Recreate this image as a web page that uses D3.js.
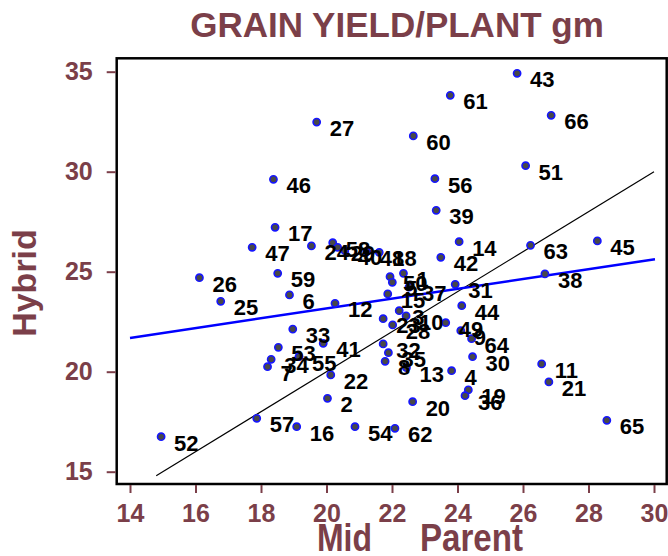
<!doctype html>
<html lang="en">
<head>
<meta charset="UTF-8">
<title>Grain yield / plant</title>
<script src="https://cdn.jsdelivr.net/npm/d3@7"></script>
<style>
  body { margin: 0; background: #fff; }
  svg { display: block; font-family: "Liberation Sans", Arial, sans-serif; }
</style>
</head>
<body>
<svg width="668" height="556"></svg>
<script>
// point labels (entry number), mid parent value (x) and hybrid value (y)
var labels = [43, 61, 66, 27, 60, 51, 46, 56, 39,
  17, 47, 24, 14, 63, 45, 42,
  58, 29, 40, 48, 18,
  26, 59, 25, 6, 12, 38,
  50, 5, 1, 15, 37, 31, 44,
  3, 10, 23, 28, 49, 9, 64, 30, 32, 35, 8, 13, 4, 19, 36, 20, 11, 21, 65, 54, 62,
  33, 53, 34, 7, 55, 41, 22, 2, 57, 16, 52];
var midParent = [25.82, 23.78, 26.86, 19.70, 22.65, 26.08, 18.38, 23.31, 23.35,
  18.43, 17.73, 19.54, 24.05, 26.23, 28.27, 23.49,
  20.19, 20.34, 20.56, 21.23, 21.61,
  16.12, 18.51, 16.77, 18.87, 20.26, 26.67,
  21.94, 22.01, 22.35, 21.87, 22.52, 23.93, 24.13,
  22.22, 22.43, 21.73, 22.02, 23.64, 24.10, 24.43, 24.46, 21.73, 21.89, 21.79, 22.44, 23.82, 24.33, 24.23, 22.63, 26.57, 26.79, 28.56, 20.87, 22.09,
  18.97, 18.53, 18.31, 18.20, 19.16, 19.90, 20.13, 20.03, 17.87, 19.09, 14.95];
var hybrid = [34.92, 33.82, 32.82, 32.48, 31.79, 30.30, 29.62, 29.65, 28.07,
  27.22, 26.22, 26.29, 26.50, 26.32, 26.54, 25.72,
  26.45, 26.22, 26.05, 26.00, 25.97,
  24.70, 24.92, 23.52, 23.84, 23.42, 24.89,
  24.75, 24.47, 24.92, 23.89, 24.23, 24.37, 23.30,
  23.05, 22.79, 22.65, 22.34, 22.45, 22.05, 21.65, 20.75, 21.39, 20.95, 20.52, 20.20, 20.05, 19.09, 18.80, 18.50, 20.39, 19.49, 17.57, 17.25, 17.17,
  22.13, 21.22, 20.62, 20.25, 20.75, 21.42, 19.84, 18.67, 17.67, 17.25, 16.75];

// fitted line (blue) and the 1:1 line (black), end points
var fitX = [14, 30.03];
var fitY = [21.69, 25.62];
var unitX = [14.8, 30];
var unitY = [14.8, 30];

var xTicks = [14, 16, 18, 20, 22, 24, 26, 28, 30];
var yTicks = [15, 20, 25, 30, 35];

var maroon = "#7b3f49";
var svg = d3.select("svg");

var x = d3.scaleLinear().domain([14, 30]).range([130, 654]);
var y = d3.scaleLinear().domain([15, 35]).range([471.7, 71.7]);

// frame
var box = { left: 116.7, right: 666.7, top: 58.3, bottom: 484 };
svg.append("rect")
  .attr("x", box.left).attr("y", box.top)
  .attr("width", box.right - box.left).attr("height", box.bottom - box.top)
  .attr("fill", "none").attr("stroke", "#000").attr("stroke-width", 2.5);

// axes
var xAxis = svg.append("g")
  .attr("transform", "translate(0," + (box.bottom + 1) + ")")
  .call(d3.axisBottom(x).tickValues(xTicks).tickSize(8).tickPadding(11));
var yAxis = svg.append("g")
  .attr("transform", "translate(" + (box.left - 1) + ",0)")
  .call(d3.axisLeft(y).tickValues(yTicks).tickSize(9).tickPadding(14));

[xAxis, yAxis].forEach(function (g) {
  g.select(".domain").remove();
  g.selectAll("line").attr("stroke", maroon).attr("stroke-width", 2);
  g.selectAll("text")
    .attr("fill", maroon)
    .style("font-size", "25px")
    .style("font-weight", "bold")
    .style("font-family", "'Liberation Sans', Arial, sans-serif");
});

// lines
var line = d3.line().x(function (d) { return x(d[0]); }).y(function (d) { return y(d[1]); });
svg.append("path")
  .attr("d", line(d3.zip(unitX, unitY)))
  .attr("fill", "none").attr("stroke", "#000").attr("stroke-width", 1.2);
svg.append("path")
  .attr("d", line(d3.zip(fitX, fitY)))
  .attr("fill", "none").attr("stroke", "#0000ff").attr("stroke-width", 2.5);

// points
var pts = d3.range(labels.length);
svg.append("g").selectAll("circle")
  .data(pts).enter().append("circle")
  .attr("cx", function (i) { return x(midParent[i]); })
  .attr("cy", function (i) { return y(hybrid[i]); })
  .attr("r", 3.6)
  .attr("fill", "#484848")
  .attr("stroke", "#1515ff")
  .attr("stroke-width", 1.6);

svg.append("g").selectAll("text")
  .data(pts).enter().append("text")
  .attr("x", function (i) { return x(midParent[i]) + 13; })
  .attr("y", function (i) { return y(hybrid[i]) + 14; })
  .text(function (i) { return labels[i]; })
  .style("font-size", "22px")
  .style("font-weight", "bold")
  .attr("fill", "#000");

// titles
svg.append("text")
  .attr("x", 397).attr("y", 37)
  .attr("text-anchor", "middle")
  .style("font-size", "35px").style("font-weight", "bold")
  .attr("fill", maroon)
  .text("GRAIN YIELD/PLANT gm");

svg.append("text")
  .attr("transform", "translate(36,283) rotate(-90)")
  .attr("text-anchor", "middle")
  .style("font-size", "34px").style("font-weight", "bold")
  .attr("fill", maroon)
  .text("Hybrid");

svg.append("text")
  .attr("x", 317).attr("y", 551)
  .attr("textLength", 55).attr("lengthAdjust", "spacingAndGlyphs")
  .style("font-size", "39px").style("font-weight", "bold")
  .attr("fill", maroon)
  .text("Mid");
svg.append("text")
  .attr("x", 420).attr("y", 551)
  .attr("textLength", 103).attr("lengthAdjust", "spacingAndGlyphs")
  .style("font-size", "39px").style("font-weight", "bold")
  .attr("fill", maroon)
  .text("Parent");
</script>
</body>
</html>
